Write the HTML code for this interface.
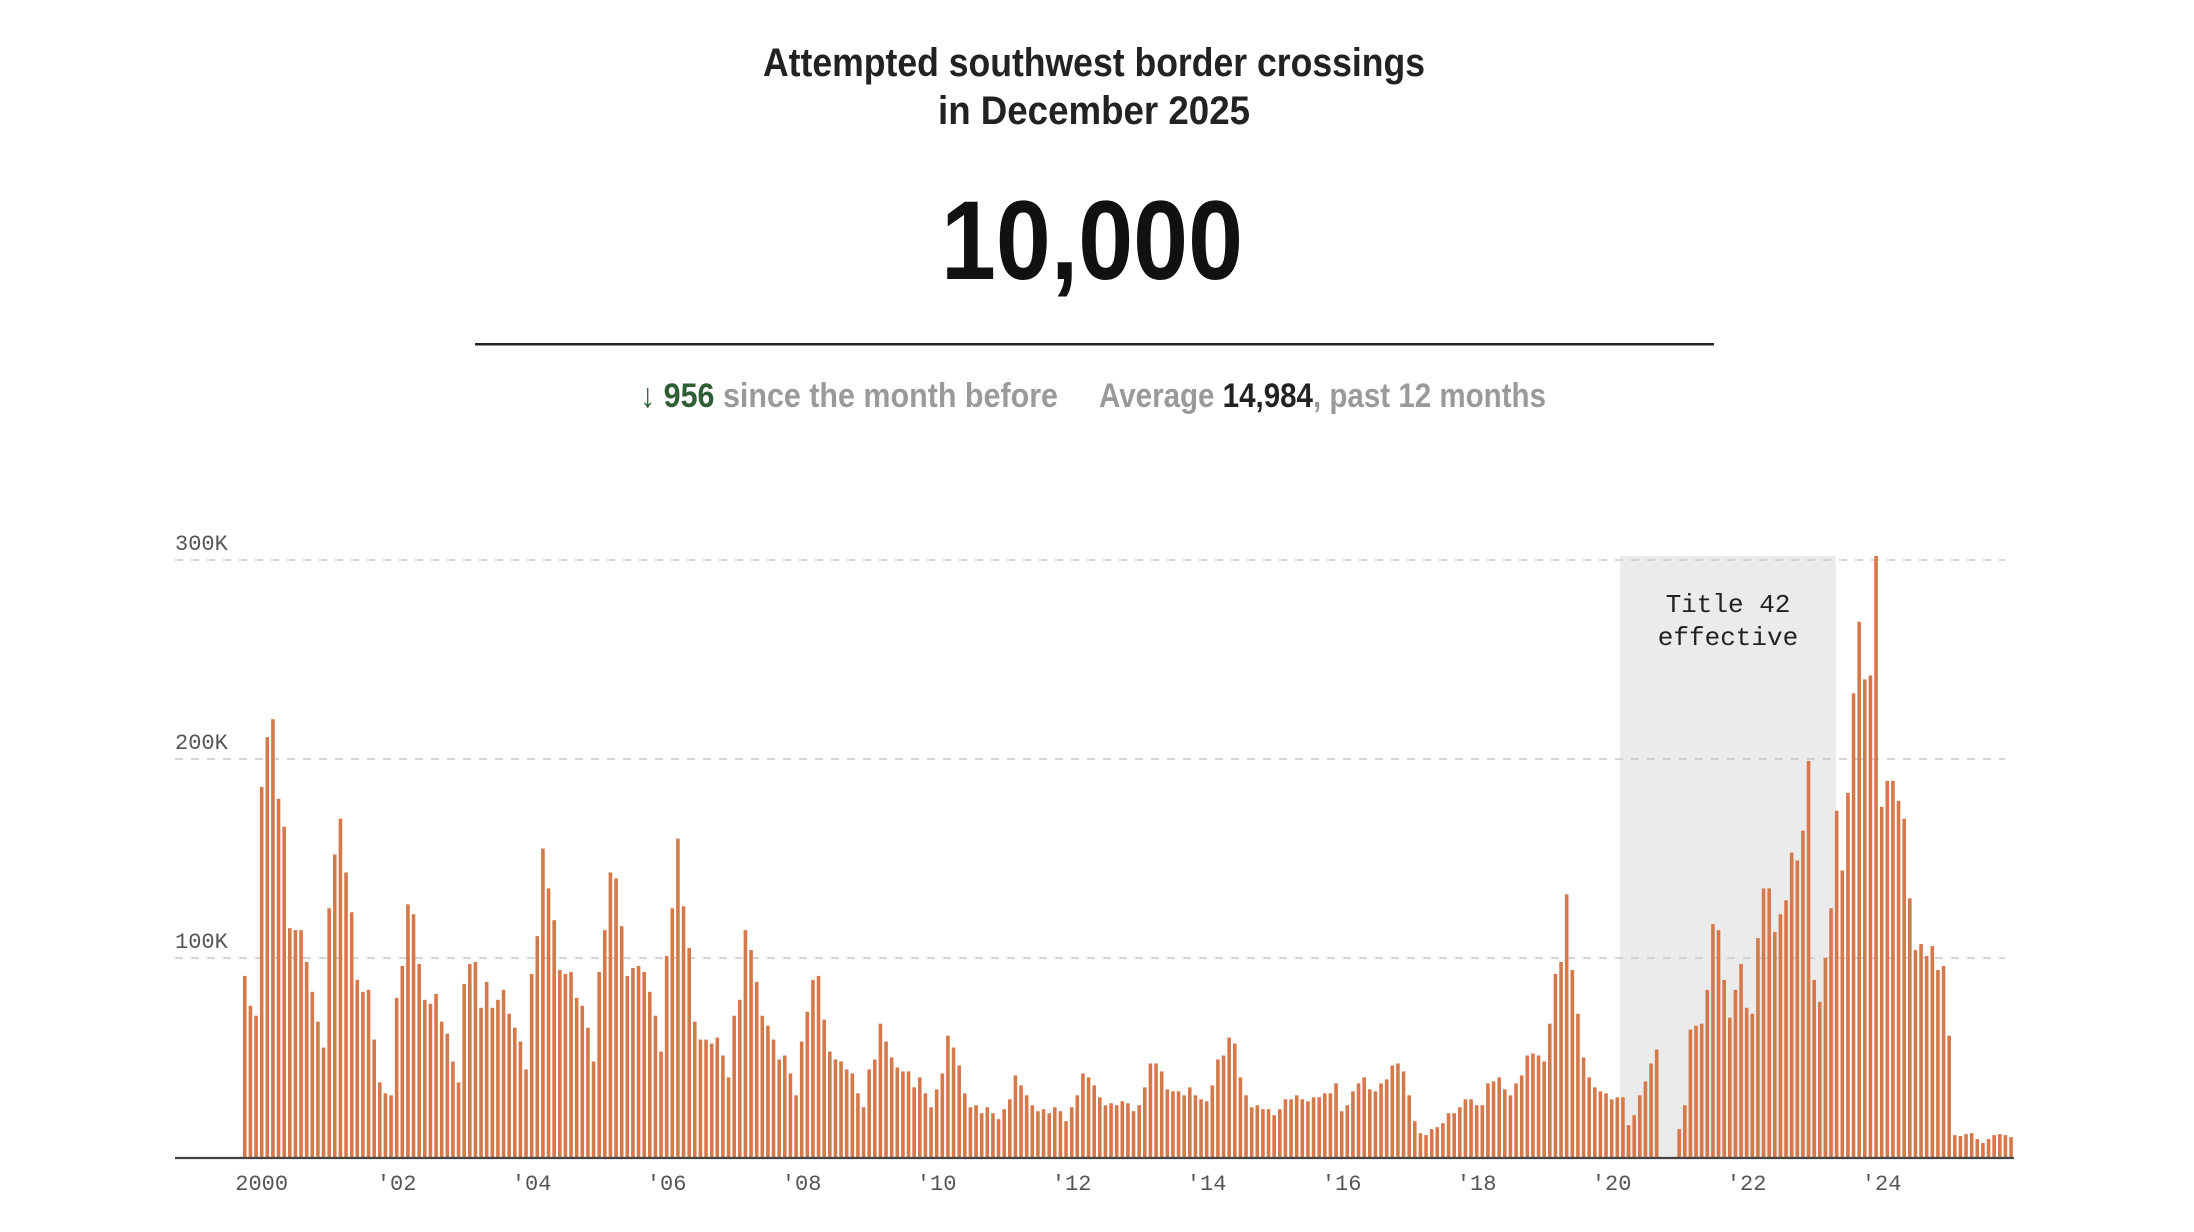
<!DOCTYPE html>
<html><head><meta charset="utf-8"><title>Attempted southwest border crossings</title>
<style>html,body{margin:0;padding:0;background:#fff}svg{display:block}</style></head>
<body>
<svg id="chart" width="2194" height="1232" viewBox="0 0 2194 1232" xmlns="http://www.w3.org/2000/svg">
  <g font-family="'Liberation Sans Narrow','Liberation Sans',sans-serif" font-weight="bold" text-anchor="middle">
    <text x="1094" y="76" font-size="40" fill="#222" textLength="662" lengthAdjust="spacingAndGlyphs">Attempted southwest border crossings</text>
    <text x="1094" y="124" font-size="40" fill="#222" textLength="312" lengthAdjust="spacingAndGlyphs">in December 2025</text>
    <text x="1092" y="279" font-size="112" fill="#111" textLength="302" lengthAdjust="spacingAndGlyphs">10,000</text>
  </g>
  <rect x="475" y="343" width="1239" height="2.5" fill="#222"/>
  <g font-family="'Liberation Sans Narrow','Liberation Sans',sans-serif" font-weight="bold" font-size="34">
    <text x="640" y="407" textLength="418" lengthAdjust="spacingAndGlyphs"><tspan fill="#2e5e34">↓ 956</tspan><tspan fill="#9a9a9a"> since the month before</tspan></text>
    <text x="1099" y="407" textLength="447" lengthAdjust="spacingAndGlyphs"><tspan fill="#9a9a9a">Average </tspan><tspan fill="#222">14,984</tspan><tspan fill="#9a9a9a">, past 12 months</tspan></text>
  </g>
  <g id="plot"></g>
</svg>
<script>
const months = 315; // Oct 1999 .. Dec 2025
const values = [
91,76,71,186,211,220,180,166,115,114,
114,98,83,68,55,125,152,170,143,123,
89,83,84,59,37.5,32,31,80,96,127,
122,97,79,77,82,68,62,48,37.5,87,
97,98,75,88,75,79,84,72,65,58,
44,92,111,155,135,119,94,92,93,80,
76,65,48,93,114,143,140,116,91,95,
96,93,83,71,53,101,125,160,126,105,
68,59,59,
57,60,51,40,71,79,114,104,88,71,
66,59,49,51,42,31,58,73,89,91,
69,53,49,48,44,42,32,25,44,49,
67,58,50,45,43,43,35,40,32,25,
34,42,61,55,46,32,25,26,22,25,
22,19,24,29,41,36,31,26,23,24,
22,25,23,18,25,31,42,40,36,30,
26,27,26,28,27,23,26,35,47,47,
43,34,
33,33,31,35,31,29,28,36,49,51,
60,57,40,31,25,26,24,24,21,24,
29,29,31,29,28,30,30,32,32,37,
23,26,33,37,40,34,33,37,39,46,
47,43,31,18,12,11,14,15,17,22,
22,25,29,29,26,26,37,38,40,34,
31,37,41,51,52,51,48,67,92,98,
132,94,72,50,40,35,33,32,29,30,
30,16,21,31,38,47,54,
null,null,null,
14,26,64,66,67,84,117,114,89,70,
84,97,75,72,110,135,135,113,122,129,
153,149,164,199,89,78,100,125,174,144,
183,233,269,240,242,302,
176,189,189,179,170,130,104,107,101,106,
94,96,61,11,10.5,11.5,12,9,7,9,
11,11.5,11,10
];
const yTicks = [100, 200, 300];
const yTickLabels = ["100K", "200K", "300K"];
const xTickYears = [2000,2002,2004,2006,2008,2010,2012,2014,2016,2018,2020,2022,2024];
const xTickLabels = ["2000","'02","'04","'06","'08","'10","'12","'14","'16","'18","'20","'22","'24"];
const shadeStart = 245; // Mar 2020 index
const shadeEnd = 283;   // May 2023 index

const NS = "http://www.w3.org/2000/svg";
const X0 = 243, STEP = 5.625, BARW = 3.6;
const Y0 = 1157, PX_PER_K = 1.99;
function xScale(i){ return X0 + i*STEP; }
function yScale(v){ return Y0 - v*PX_PER_K; }
function monthIndex(year, month){ return (year-1999)*12 + (month-10); }
const plot = document.getElementById('plot');
function mk(tag, attrs){ const e=document.createElementNS(NS,tag); for(const k in attrs) e.setAttribute(k, attrs[k]); plot.appendChild(e); return e; }

// Title 42 shading
const sx0 = xScale(shadeStart) - 1, sx1 = xScale(shadeEnd) + 1;
const shade = mk('rect',{x:sx0,y:yScale(300)-4,width:sx1-sx0,height:Y0-yScale(300)+4,fill:'#ebebeb'});


const sl1 = mk('text',{x:(sx0+sx1)/2,y:612,'text-anchor':'middle','font-family':"'Liberation Mono',monospace",'font-size':26,fill:'#222'});
sl1.textContent = 'Title 42';


const sl2 = mk('text',{x:(sx0+sx1)/2,y:645,'text-anchor':'middle','font-family':"'Liberation Mono',monospace",'font-size':26,fill:'#222'});
sl2.textContent = 'effective';



// grid + y labels
yTicks.forEach((t, k) => {
  const g = mk('line',{x1:175,x2:2005,y1:yScale(t),y2:yScale(t),stroke:'#c8c8c8','stroke-width':1.5,'stroke-dasharray':'8 8'});
  
  
  const l = mk('text',{x:175,y:yScale(t)-10,'font-family':"'Liberation Mono',monospace",'font-size':22,fill:'#555'});
  l.textContent = yTickLabels[k];
  
  
});

// bars
values.forEach((v, i) => {
  if (v === null || i >= months) return;
  const b = mk('rect',{x:xScale(i),y:yScale(v),width:BARW,height:Y0-yScale(v),fill:'#d5784a'});
  
  
});

// axis
const ax = mk('line',{x1:175,x2:xScale(months-1)+BARW+1,y1:Y0+1,y2:Y0+1,stroke:'#444','stroke-width':2.2});



xTickYears.forEach((yr, k) => {
  const t = mk('text',{x:xScale(monthIndex(yr,1))+BARW/2,y:1190,'text-anchor':'middle','font-family':"'Liberation Mono',monospace",'font-size':22,fill:'#555'});
  t.textContent = xTickLabels[k];
  
  
});
</script>
</body></html>
